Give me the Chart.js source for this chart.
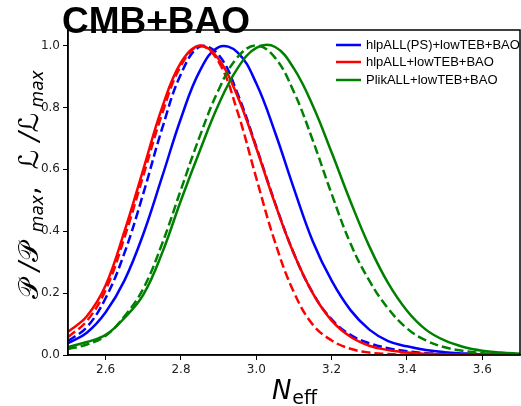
<!DOCTYPE html>
<html>
<head>
<meta charset="utf-8">
<script src="https://cdn.jsdelivr.net/npm/chart.js@4"></script>
<style>
  body{margin:0;background:#fff;}
  canvas{display:block;}
</style>
</head>
<body>
<canvas id="chart" width="521" height="406"></canvas>
<script>
// ==========================
// DATA
// ==========================
const nEff = [2.50,2.55,2.60,2.65,2.70,2.75,2.80,2.85,2.90,2.95,3.00,3.05,3.10,
              3.15,3.20,3.25,3.30,3.35,3.40,3.45,3.50,3.55,3.60,3.65,3.70];

// solid = posterior, dashed = profile likelihood
const hlpPSsolid  = [.038,.072,.138,.241,.391,.576,.765,.918,.995,.978,.877,.718,.537,
                     .367,.240,.145,.082,.045,.028,.016,.009,.005,.002,.001,0];
const hlpPSdashed = [.045,.090,.184,.330,.522,.732,.908,.996,.970,.845,.672,.490,.327,
                     .200,.115,.065,.038,.022,.012,.006,.003,.001,.0005,0,0];
const hlpSolid    = [.075,.125,.225,.400,.600,.800,.945,1.0,.956,.836,.668,.488,.326,
                     .199,.111,.059,.030,.016,.008,.004,.002,.001,.0005,0,0];
const hlpDashed   = [.058,.110,.210,.380,.580,.780,.935,.998,.947,.786,.571,.363,.202,
                     .098,.047,.020,.008,.003,.001,0,0,0,0,0,0];
const plikSolid   = [.026,.042,.065,.120,.195,.330,.500,.660,.810,.926,.992,.995,.925,
                     .805,.654,.496,.351,.232,.143,.082,.047,.026,.014,.008,.004];
const plikDashed  = [.019,.034,.062,.125,.215,.360,.535,.707,.857,.962,1.0,.960,.849,
                     .693,.520,.360,.240,.150,.086,.047,.025,.013,.006,.003,.001];

const labels = ["hlpALL(PS)+lowTEB+BAO","hlpALL+lowTEB+BAO","PlikALL+lowTEB+BAO"];
const colors = ["#0000ff","#ff0000","#008000"];

const xTicks = [2.6,2.8,3.0,3.2,3.4,3.6];
const yTicks = [0,0.2,0.4,0.6,0.8,1.0];

// ==========================
// DATASETS
// ==========================
function pts(ys){ return nEff.map((x,i)=>({x:x,y:ys[i]})); }

function line(ys,color,label,dashed){
  return {
    label: label,
    data: pts(ys),
    borderColor: color,
    borderWidth: 2.5,
    borderDash: dashed ? [9,4] : [],
    pointRadius: 0,
    fill: false,
    tension: 0.4
  };
}

const datasets = [
  line(plikDashed,colors[2],"",true),
  line(plikSolid,colors[2],labels[2],false),
  line(hlpDashed,colors[1],"",true),
  line(hlpSolid,colors[1],labels[1],false),
  line(hlpPSdashed,colors[0],"",true),
  line(hlpPSsolid,colors[0],labels[0],false)
];

// ==========================
// EXTRA DRAWING (frame, legend, titles)
// ==========================
const decor = {
  id:"decor",
  afterDraw(chart){
    const ctx = chart.ctx, a = chart.chartArea;
    ctx.save();

    // frame
    ctx.strokeStyle="#000";
    ctx.lineWidth=1.5;
    ctx.strokeRect(a.left,a.top,a.right-a.left,a.bottom-a.top);

    // legend
    ctx.font="13px 'Liberation Sans', Arial, sans-serif";
    ctx.textBaseline="middle";
    const rows=[45,62,80];
    labels.forEach((l,i)=>{
      ctx.strokeStyle=colors[i];
      ctx.lineWidth=2.5;
      ctx.beginPath();
      ctx.moveTo(336,rows[i]);
      ctx.lineTo(361,rows[i]);
      ctx.stroke();
      ctx.fillStyle="#000";
      ctx.fillText(l,366,rows[i]);
    });

    // x label: N_eff
    ctx.fillStyle="#000";
    ctx.textBaseline="alphabetic";
    const cx=(a.left+a.right)/2;
    ctx.font="italic 26px 'DejaVu Sans'";
    const wN=ctx.measureText("N").width;
    ctx.font="19px 'DejaVu Sans'";
    const wE=ctx.measureText("eff").width;
    let x0=cx-(wN+wE)/2;
    ctx.font="italic 26px 'DejaVu Sans'";
    ctx.fillText("N",x0,399);
    ctx.font="19px 'DejaVu Sans'";
    ctx.fillText("eff",x0+wN+1,404);

    // y label
    const main="27px 'DejaVu Sans'", sl="italic 27px 'DejaVu Sans'", sub="italic 17px 'DejaVu Sans'";
    const parts=[["𝒫",main,0],[" /",sl,0],["𝒫",main,0],["  max",sub,5],[",  ",main,0],
                 ["ℒ",main,0],[" /",sl,0],["ℒ",main,0],[" max",sub,5]];
    let total=0;
    parts.forEach(p=>{ctx.font=p[1]; total+=ctx.measureText(p[0]).width;});
    ctx.translate(38,(a.top+a.bottom)/2-8);
    ctx.rotate(-Math.PI/2);
    let px=-total/2;
    parts.forEach(p=>{
      ctx.font=p[1];
      ctx.fillText(p[0],px,p[2]);
      px+=ctx.measureText(p[0]).width;
    });
    ctx.restore();

    // big title on top
    ctx.save();
    ctx.fillStyle="#000";
    ctx.font="bold 37px 'Liberation Sans', Arial, sans-serif";
    ctx.textBaseline="alphabetic";
    ctx.fillText("CMB+BAO",62,33);
    ctx.restore();
  }
};

// ==========================
// CHART
// ==========================
const tickFont = {family:"'DejaVu Sans'", size:12};

new Chart(document.getElementById("chart"),{
  type:"line",
  data:{datasets:datasets},
  options:{
    responsive:false,
    animation:false,
    devicePixelRatio:1,
    layout:{padding:{top:30,right:1,left:0,bottom:0}},
    plugins:{legend:{display:false},tooltip:{enabled:false}},
    scales:{
      x:{
        type:"linear",
        min:2.5,max:3.7,
        afterBuildTicks:s=>{s.ticks=xTicks.map(v=>({value:v}));},
        afterFit:s=>{s.height=51;},
        ticks:{callback:v=>v.toFixed(1),font:tickFont,color:"#222",padding:3,maxRotation:0,autoSkip:false},
        grid:{drawOnChartArea:false,tickLength:5,color:"#000",lineWidth:1},
        border:{color:"#000",width:1.5}
      },
      y:{
        type:"linear",
        min:0,max:1.05,
        afterBuildTicks:s=>{s.ticks=yTicks.map(v=>({value:v}));},
        afterFit:s=>{s.width=68;},
        ticks:{callback:v=>v.toFixed(1),font:tickFont,color:"#222",padding:3,autoSkip:false},
        grid:{drawOnChartArea:false,tickLength:5,color:"#000",lineWidth:1},
        border:{color:"#000",width:1.5}
      }
    }
  },
  plugins:[decor]
});
</script>
</body>
</html>
